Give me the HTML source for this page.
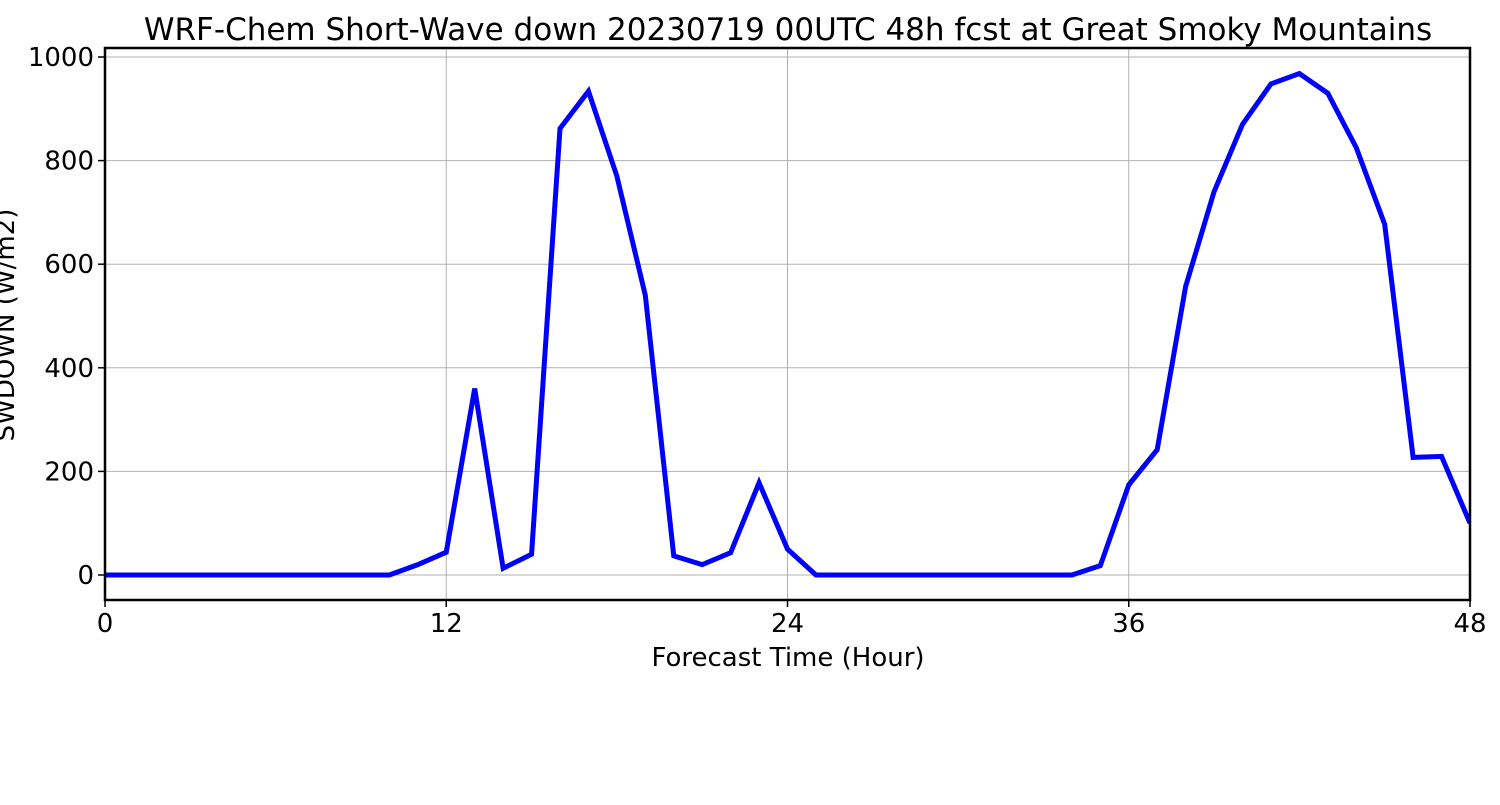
<!DOCTYPE html>
<html><head><meta charset="utf-8"><style>
body{margin:0;background:#fff;}
svg text{font-family:"DejaVu Sans","Liberation Sans",sans-serif;fill:#000;}
</style></head><body>
<svg width="1500" height="800">
<g id="grid"></g>
<g id="ticks"></g>
<path id="line" fill="none" stroke="#0000ff" stroke-width="5" stroke-linejoin="miter" clip-path="url(#clip)"/>
<clipPath id="clip"><rect x="105" y="48" width="1365" height="552"/></clipPath>
<rect x="105" y="48" width="1365" height="552" fill="none" stroke="#000" stroke-width="2.5"/>
<text x="788" y="40" font-size="31" text-anchor="middle">WRF-Chem Short-Wave down  20230719 00UTC 48h fcst at Great Smoky Mountains</text>
<text x="788" y="666" font-size="26" text-anchor="middle">Forecast Time (Hour)</text>
<text transform="translate(14,325) rotate(-90)" font-size="26" text-anchor="middle">SWDOWN  (W/m2)</text>
</svg>
<script>
const hours=[0,1,2,3,4,5,6,7,8,9,10,11,12,13,14,15,16,17,18,19,20,21,22,23,24,25,26,27,28,29,30,31,32,33,34,35,36,37,38,39,40,41,42,43,44,45,46,47,48];
const swdown=[0,0,0,0,0,0,0,0,0,0,0,20,44,360,13,40,862,934,770,540,37,20,43,178,50,0,0,0,0,0,0,0,0,0,0,18,174,242,557,740,870,948,968,930,825,677,227,229,100];
const xTicks=[0,12,24,36,48];
const yTicks=[0,200,400,600,800,1000];
const X=v=>105+v*(1365/48);
const Y=v=>575-v*0.518;
const ns="http://www.w3.org/2000/svg";
const grid=document.getElementById('grid'),ticks=document.getElementById('ticks');
function mk(tag,attrs,parent){const e=document.createElementNS(ns,tag);for(const k in attrs)e.setAttribute(k,attrs[k]);parent.appendChild(e);return e;}
xTicks.forEach(t=>{
 const l=mk('line',{x1:X(t),x2:X(t),y1:48,y2:600,stroke:'#b0b0b0','stroke-width':1},grid);
 
 
 const tk=mk('line',{x1:X(t),x2:X(t),y1:600,y2:607,stroke:'#000','stroke-width':1.5},ticks);
 
 
 const tx=mk('text',{x:X(t),y:632,'font-size':26,'text-anchor':'middle'},ticks);
 tx.textContent=t;
 
 
});
yTicks.forEach(t=>{
 const l=mk('line',{x1:105,x2:1470,y1:Y(t),y2:Y(t),stroke:'#b0b0b0','stroke-width':1},grid);
 
 
 const tk=mk('line',{x1:98,x2:105,y1:Y(t),y2:Y(t),stroke:'#000','stroke-width':1.5},ticks);
 
 
 const tx=mk('text',{x:94,y:Y(t)+9,'font-size':26,'text-anchor':'end'},ticks);
 tx.textContent=t;
 
 
});
document.getElementById('line').setAttribute('d',hours.map((h,i)=>(i?'L':'M')+X(h)+','+Y(swdown[i])).join(''));
</script>
</body></html>
